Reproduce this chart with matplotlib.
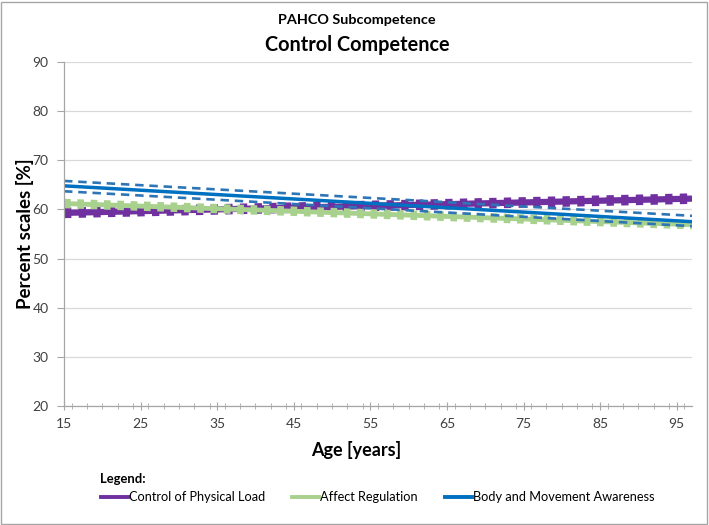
import matplotlib
matplotlib.use("Agg")
import matplotlib.pyplot as plt
from matplotlib.lines import Line2D
from matplotlib.patches import Rectangle
from matplotlib.ticker import MultipleLocator

plt.rcParams["font.family"] = ["Lato", "DejaVu Sans"]

# regression lines (age range shown in the chart)
age = [15, 97]

load_fit = [59.3, 62.2]
load_lo = [58.9, 61.8]
load_hi = [59.7, 62.6]

affect_fit = [61.2, 56.9]
affect_lo = [60.8, 56.5]
affect_hi = [61.6, 57.3]

body_fit = [64.8, 57.5]
body_lo = [63.7, 56.6]
body_hi = [65.8, 58.7]

series_names = ["Control of Physical Load", "Affect Regulation",
                "Body and Movement Awareness"]
PURPLE = "#7030A0"
GREEN = "#A9D18E"
BLUE = "#0070C0"

fig = plt.figure(figsize=(7.09, 5.25), dpi=100)
ax = fig.add_axes([64 / 709, 1 - 406 / 525, 628 / 709, 344 / 525])

# purple: thick square-dotted CI with solid fit
ax.plot(age, load_fit, color=PURPLE, lw=4.5, solid_capstyle="butt")
for band in (load_lo, load_hi):
    ax.plot(age, band, color=PURPLE, lw=4.8, dashes=(1.1, 1.1),
            solid_capstyle="butt", dash_capstyle="butt")

# green
ax.plot(age, affect_fit, color=GREEN, lw=3.5, solid_capstyle="butt")
for band in (affect_lo, affect_hi):
    ax.plot(age, band, color=GREEN, lw=4, dashes=(1.2, 1.2),
            dash_capstyle="butt")

# blue
ax.plot(age, body_fit, color=BLUE, lw=2.5, solid_capstyle="butt")
for band in (body_lo, body_hi):
    ax.plot(age, band, color="#2E75B6", lw=1.9, dashes=(3.2, 2.2),
            dash_capstyle="butt")

ax.set_xlim(15, 97)
ax.set_ylim(20, 90)
ax.xaxis.set_major_locator(MultipleLocator(10))
ax.xaxis.set_minor_locator(MultipleLocator(2))
ax.yaxis.set_major_locator(MultipleLocator(10))
ax.grid(axis="y", color="#d9d9d9", lw=0.9)
ax.set_axisbelow(True)
for side in ("top", "right"):
    ax.spines[side].set_visible(False)
for side in ("left", "bottom"):
    ax.spines[side].set_color("#a6a6a6")
    ax.spines[side].set_linewidth(0.9)
ax.tick_params(axis="y", which="major", direction="out", length=5,
               color="#a6a6a6", labelsize=10, pad=6, labelcolor="#404040")
ax.tick_params(axis="x", which="major", direction="inout", length=6,
               color="#a6a6a6", labelsize=10, pad=6, labelcolor="#404040")
ax.tick_params(axis="x", which="minor", direction="inout", length=4,
               color="#a6a6a6")
ax.set_xticks([15, 25, 35, 45, 55, 65, 75, 85, 95])

ax.set_xlabel("Age [years]", fontsize=13, fontweight="bold")
ax.xaxis.set_label_coords((356 - 64) / 628, (406 - 450) / 344)
ax.xaxis.label.set_va("center")
ax.set_ylabel("Percent scales [%]", fontsize=13.5, fontweight="bold")
ax.yaxis.set_label_coords((25 - 64) / 628, 0.5)
ax.yaxis.label.set_va("center")

fig.text(357 / 709, 1 - 20 / 525, "PAHCO Subcompetence", ha="center",
         va="center", fontsize=10.4, fontweight="bold")
fig.text(357 / 709, 1 - 45 / 525, "Control Competence", ha="center",
         va="center", fontsize=14.3, fontweight="bold")

# legend at the bottom
fig.text(100 / 709, 1 - 479 / 525, "Legend:", ha="left", va="center",
         fontsize=9.4, fontweight="bold")
handle_x = [101, 292, 445]
for hx, name, col in zip(handle_x, series_names, [PURPLE, GREEN, BLUE]):
    yy = 1 - 497 / 525
    fig.add_artist(Line2D([hx / 709, (hx + 27) / 709], [yy, yy],
                          color=col, lw=2.8, transform=fig.transFigure))
    fig.text((hx + 28) / 709, yy, name, ha="left", va="center",
             fontsize=9.2)

# chart border
fig.add_artist(Rectangle((1 / 709, 1 / 525), 706 / 709, 522 / 525,
                         fill=False, edgecolor="#a6a6a6", lw=1,
                         transform=fig.transFigure))

fig.savefig("out.png", dpi=100)
